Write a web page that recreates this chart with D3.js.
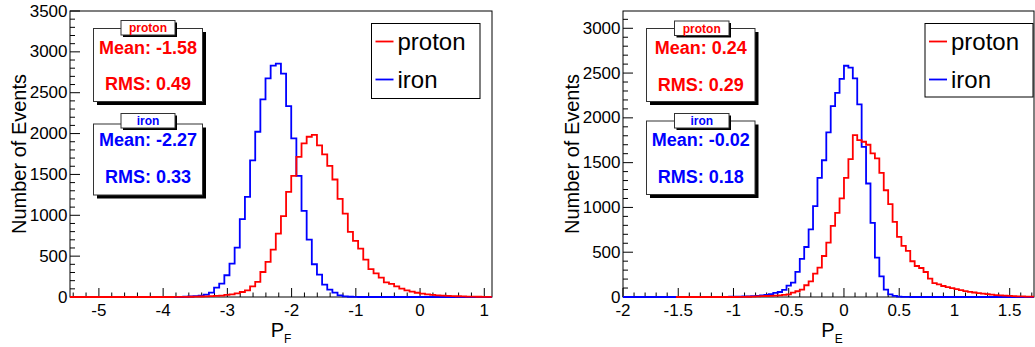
<!DOCTYPE html>
<html><head><meta charset="utf-8">
<script src="https://cdn.jsdelivr.net/npm/d3@7/dist/d3.min.js"></script>
<style>
html,body{margin:0;padding:0;background:#fff;}
svg{display:block;font-family:"Liberation Sans",Arial,Helvetica,sans-serif;}
</style></head>
<body>
<svg id="c" width="1035" height="347"></svg>
<script>
// ---------------- DATA ----------------
const seriesNames = ["proton", "iron"];
const seriesColors = ["#ff0000", "#0000ff"];

// P_F histograms (bin start, bin width, counts per bin)
const fBinStart = -5.45, fBinWidth = 0.0801;
const ironF = [0,0,0,0,0,0,0,0,0,0, 0,0,0,0,0,0,0,0,0,0, 0,0,3,6,10,16,28,54,115,164,
  266,409,605,952,1226,1671,2022,2418,2676,2831, 2855,2733,2337,1941,1483,1054,703,401,274,152,
  91,54,20,8,3,1,0,0,0,0, 0,0,0,0,0,0,0,0,0,0, 0,0,0,0,0,0,0,0,0,0, 0,0];
const protonF = [0,0,0,0,0,0,0,0,0,0, 0,0,0,0,0,0,0,0,0,0, 1,1,2,3,4,6,8,10,13,18,
  25,33,45,61,82,131,184,306,429,580, 776,989,1287,1483,1716,1880,1961,1985,1855,1745,
  1605,1438,1201,1021,797,686,593,458,340,290, 237,180,160,130,102,82,65,52,42,33,
  26,21,17,14,11,9,7,5,4,3, 2,1];

// P_E histograms
const eBinStart = -2, eBinWidth = 0.04;
const ironE = [0,0,0,0,0,0,0,0,0,0, 0,0,0,0,0,0,0,0,0,0, 1,1,2,2,3,4,5,6,8,10,
  12,17,24,33,45,56,80,128,160,280, 425,558,755,1015,1330,1527,1838,2131,2280,2435,
  2582,2560,2441,2150,1677,1267,827,440,231,82, 30,12,5,2,1,0,0,0,0,0,
  0,0,0,0,0,0,0,0,0,0, 0,0,0,0,0,0,0,0,0,0, 0,0,0];
const protonE = [null,null,null,null,null,null,null,null,null,null, null,null,0,0,0,0,0,0,0,0,
  0,0,0,0,0,0,1,2,3,5, 7,9,11,13,16,19,24,30,49,64,
  82,131,175,261,328,458,608,794,939,1100, 1330,1539,1807,1751,1733,1700,1603,1547,1386,1192,
  1036,838,671,570,514,399,346,324,279,205, 156,142,123,110,100,88,76,66,57,50,
  44,38,32,27,22,18,15,12,10,8, 6,5,4];

// statistics boxes
const meanF = [-1.58, -2.27], rmsF = [0.49, 0.33];
const meanE = [0.24, -0.02], rmsE = [0.29, 0.18];

// axes
const xDomainF = [-5.45, 1.12], yDomainF = [0, 3500];
const xDomainE = [-2, 1.72],   yDomainE = [0, 3193];
const xTicksF = [-5, -4, -3, -2, -1, 0, 1];
const xTicksE = [-2, -1.5, -1, -0.5, 0, 0.5, 1, 1.5];
const yTicksF = [0, 500, 1000, 1500, 2000, 2500, 3000, 3500];
const yTicksE = [0, 500, 1000, 1500, 2000, 2500, 3000];
const yTitle = "Number of Events";

// ---------------- DRAW ----------------
const svg = d3.select("#c");

function fmt(v){ return String(v); }

function drawPanel(cfg){
  const g = svg.append("g");
  const xs = d3.scaleLinear().domain(cfg.xDomain).range([cfg.x0, cfg.x1]);
  const ys = d3.scaleLinear().domain(cfg.yDomain).range([cfg.y1, cfg.y0]);

  // frame
  g.append("rect").attr("x", cfg.x0).attr("y", cfg.y0)
    .attr("width", cfg.x1 - cfg.x0).attr("height", cfg.y1 - cfg.y0)
    .attr("fill", "#fff").attr("stroke", "#000").attr("stroke-width", 1);

  const cid = "clip" + cfg.id;
  svg.append("clipPath").attr("id", cid).append("rect")
    .attr("x", cfg.x0).attr("y", cfg.y0 - 2)
    .attr("width", cfg.x1 - cfg.x0).attr("height", cfg.y1 - cfg.y0 + 4);

  // ticks (inside, left and bottom)
  const minorX = d3.range(Math.ceil(cfg.xDomain[0] / cfg.xMinor - 1e-9), Math.floor(cfg.xDomain[1] / cfg.xMinor + 1e-9) + 1)
    .map(i => i * cfg.xMinor);
  g.selectAll(".mx").data(minorX).enter().append("line")
    .attr("x1", d => xs(d)).attr("x2", d => xs(d))
    .attr("y1", cfg.y1).attr("y2", d => cfg.y1 - (Math.abs(d / cfg.xMajor - Math.round(d / cfg.xMajor)) < 1e-6 ? 9 : 4.5))
    .attr("stroke", "#000").attr("stroke-width", 1);
  const minorY = d3.range(0, Math.floor(cfg.yDomain[1] / cfg.yMinor) + 1).map(i => i * cfg.yMinor);
  g.selectAll(".my").data(minorY).enter().append("line")
    .attr("y1", d => ys(d)).attr("y2", d => ys(d))
    .attr("x1", cfg.x0).attr("x2", d => cfg.x0 + (d % cfg.yMajor === 0 ? 10 : 5))
    .attr("stroke", "#000").attr("stroke-width", 1);

  // histograms
  const line = d3.line().x(d => xs(d[0])).y(d => ys(d[1]));
  cfg.series.forEach(s => {
    const pts = [];
    s.values.forEach((v, i) => {
      if (v == null) return;
      pts.push([s.start + i * s.width, v], [s.start + (i + 1) * s.width, v]);
    });
    g.append("path").attr("d", line(pts)).attr("fill", "none")
      .attr("stroke", s.color).attr("stroke-width", 1.8)
      .attr("clip-path", `url(#${cid})`);
  });

  // tick labels
  g.selectAll(".xl").data(cfg.xTicks).enter().append("text")
    .attr("x", d => xs(d)).attr("y", 315.5).attr("text-anchor", "middle")
    .attr("font-size", 17).attr("fill", "#000").text(fmt);
  g.selectAll(".yl").data(cfg.yTicks).enter().append("text")
    .attr("x", cfg.x0 - 2.5).attr("y", d => ys(d) + 5.5).attr("text-anchor", "end")
    .attr("font-size", 17).attr("fill", "#000").text(fmt);

  // axis titles
  g.append("text").attr("transform", `translate(${cfg.yTitleX},154) rotate(-90)`)
    .attr("text-anchor", "middle").attr("font-size", 20).text(yTitle);
  const xt = g.append("text").attr("x", cfg.xTitleX).attr("y", 337)
    .attr("font-size", 20).attr("text-anchor", "middle");
  xt.append("tspan").text("P");
  xt.append("tspan").attr("font-size", 12).attr("dy", 6).text(cfg.sub);

  // stats boxes
  cfg.stats.forEach(st => {
    const bx = st.box;
    g.append("rect").attr("x", bx[0] + 3.5).attr("y", bx[1] + 3.5)
      .attr("width", bx[2] - bx[0]).attr("height", bx[3] - bx[1]).attr("fill", "#000");
    g.append("rect").attr("x", bx[0]).attr("y", bx[1])
      .attr("width", bx[2] - bx[0]).attr("height", bx[3] - bx[1])
      .attr("fill", "#fff").attr("stroke", "#333").attr("stroke-width", 1);
    const tb = st.title;
    g.append("rect").attr("x", tb[0] + 2).attr("y", tb[1] + 2)
      .attr("width", tb[2] - tb[0]).attr("height", tb[3] - tb[1]).attr("fill", "#000");
    g.append("rect").attr("x", tb[0]).attr("y", tb[1])
      .attr("width", tb[2] - tb[0]).attr("height", tb[3] - tb[1])
      .attr("fill", "#fff").attr("stroke", "#333").attr("stroke-width", 1);
    const cx = (bx[0] + bx[2]) / 2;
    g.append("text").attr("x", (tb[0] + tb[2]) / 2).attr("y", tb[1] + 11.5)
      .attr("text-anchor", "middle").attr("font-size", 12).attr("font-weight", "bold")
      .attr("fill", st.color).text(st.name);
    g.append("text").attr("x", cx).attr("y", st.meanY)
      .attr("text-anchor", "middle").attr("font-size", 18).attr("font-weight", "bold")
      .attr("fill", st.color).text("Mean: " + st.mean.toFixed(2));
    g.append("text").attr("x", cx).attr("y", st.rmsY)
      .attr("text-anchor", "middle").attr("font-size", 18).attr("font-weight", "bold")
      .attr("fill", st.color).text("RMS: " + st.rms.toFixed(2));
  });

  // legend
  const L = cfg.legend;
  g.append("rect").attr("x", L[0]).attr("y", L[1]).attr("width", L[2] - L[0]).attr("height", L[3] - L[1])
    .attr("fill", "#fff").attr("stroke", "#000").attr("stroke-width", 1);
  seriesNames.forEach((n, i) => {
    const ly = [41.5, 79.5][i];
    g.append("line").attr("x1", L[0] + 4).attr("x2", L[0] + 22).attr("y1", ly).attr("y2", ly)
      .attr("stroke", seriesColors[i]).attr("stroke-width", 1.8);
    g.append("text").attr("x", L[0] + 26).attr("y", [49.5, 88][i])
      .attr("font-size", 24).attr("fill", "#000").text(n);
  });
}

drawPanel({
  id: "F", x0: 70, x1: 492, y0: 11, y1: 297,
  xDomain: xDomainF, yDomain: yDomainF, xMajor: 1, xMinor: 0.2, yMajor: 500, yMinor: 100,
  xTicks: xTicksF, yTicks: yTicksF, yTitleX: 26, xTitleX: 281, sub: "F",
  series: [
    {values: ironF, start: fBinStart, width: fBinWidth, color: seriesColors[1]},
    {values: protonF, start: fBinStart, width: fBinWidth, color: seriesColors[0]}
  ],
  stats: [
    {name: seriesNames[0], color: seriesColors[0], mean: meanF[0], rms: rmsF[0],
     box: [93.5, 28.5, 202.5, 101.5], title: [121, 20.5, 175, 35], meanY: 53.5, rmsY: 90},
    {name: seriesNames[1], color: seriesColors[1], mean: meanF[1], rms: rmsF[1],
     box: [93.5, 124, 202.5, 195], title: [121, 113.5, 175, 128], meanY: 146, rmsY: 182.5}
  ],
  legend: [371.5, 23.5, 480, 98.5]
});

drawPanel({
  id: "E", x0: 623, x1: 1034, y0: 11, y1: 297,
  xDomain: xDomainE, yDomain: yDomainE, xMajor: 0.5, xMinor: 0.1, yMajor: 500, yMinor: 100,
  xTicks: xTicksE, yTicks: yTicksE, yTitleX: 579, xTitleX: 832, sub: "E",
  series: [
    {values: ironE, start: eBinStart, width: eBinWidth, color: seriesColors[1]},
    {values: protonE, start: eBinStart, width: eBinWidth, color: seriesColors[0]}
  ],
  stats: [
    {name: seriesNames[0], color: seriesColors[0], mean: meanE[0], rms: rmsE[0],
     box: [646.5, 28.5, 755, 101.5], title: [674.5, 21, 729, 35.5], meanY: 53.5, rmsY: 90.5},
    {name: seriesNames[1], color: seriesColors[1], mean: meanE[1], rms: rmsE[1],
     box: [646.5, 121, 755, 194.5], title: [674.5, 113.5, 729, 128], meanY: 146, rmsY: 182.5}
  ],
  legend: [925, 23.5, 1033, 97]
});
</script>
</body></html>
